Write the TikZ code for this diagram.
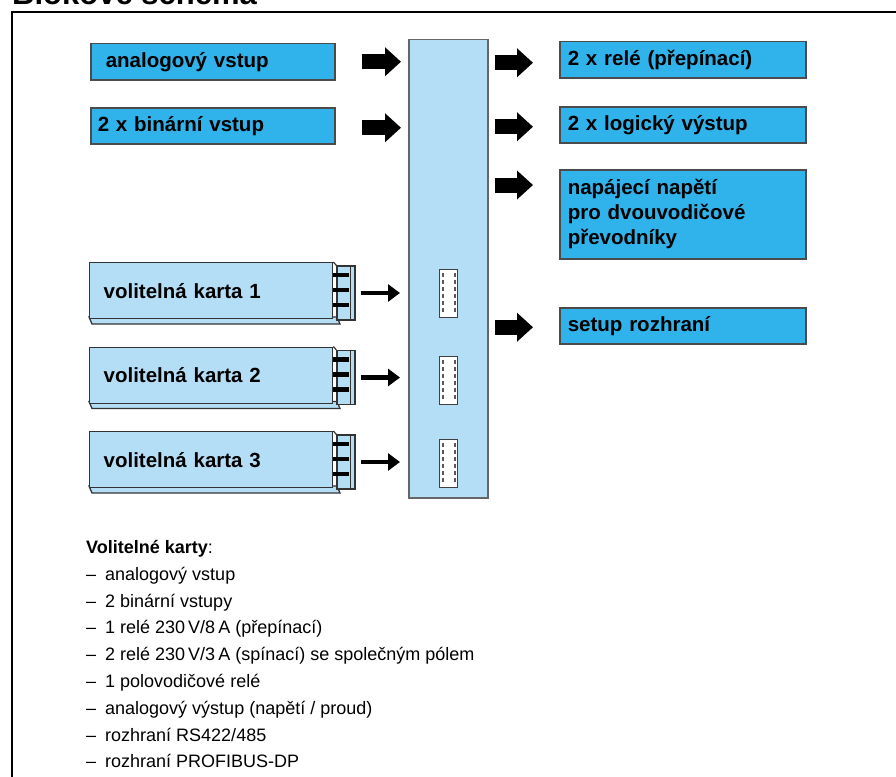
\documentclass[tikz,border=0pt]{standalone}
\usepackage{fontspec}
\setmainfont{Liberation Sans}
\usetikzlibrary{arrows.meta,positioning,calc}

\definecolor{boxcyan}{RGB}{48,178,234}
\definecolor{cardblue}{RGB}{180,222,245}
\definecolor{edgegray}{RGB}{75,75,75}

\begin{document}
\begin{tikzpicture}[x=1pt,y=-1pt,
  iobox/.style={rectangle,draw=edgegray,line width=1.5pt,fill=boxcyan,anchor=north west,
    align=left,font=\fontsize{20.5}{25}\selectfont\bfseries,minimum height=36pt,
    inner ysep=4pt,text width=#1},
  cardbox/.style={rectangle,draw=black!80,line width=1.3pt,fill=cardblue,anchor=north west,
    align=left,font=\fontsize{20.5}{25}\selectfont\bfseries,minimum height=56pt,
    inner xsep=14pt,text width=215pt},
  conn/.style={rectangle,draw=black!80,line width=1.3pt,fill=cardblue,minimum width=18pt,
    minimum height=54pt,inner sep=0pt},
  slot/.style={rectangle,draw=black!75,line width=1.2pt,fill=white,anchor=north west,
    minimum width=18pt,minimum height=48pt,inner sep=0pt},
  bigarrow/.style={line width=15pt,-{Triangle[length=16pt,width=28pt]}},
  cardarrow/.style={line width=4.5pt,-{Triangle[length=12pt,width=17pt]}}
]
\useasboundingbox (0,0) rectangle (896,776);

% title and frame
\node[anchor=base west,inner sep=0pt,font=\fontsize{31}{31}\selectfont\bfseries] (title) at (12,5) {Blokové schéma};
\draw[line width=2.2pt] (910,12) -- (12,12) -- (12,790);

% central bus
\node[rectangle,draw=black!60,line width=1.5pt,fill=cardblue,anchor=north west,
  minimum width=79pt,minimum height=458pt] (bus) at (408,39) {};
\foreach \y [count=\i] in {269,356,439} {
  \node[slot] (slot\i) at (439,\y) {};
  \draw[black!65,line width=2pt,dash pattern=on 4pt off 3pt]
    ([xshift=3.5pt,yshift=-4pt]slot\i.north west) -- ([xshift=3.5pt,yshift=4pt]slot\i.south west);
  \draw[black!65,line width=2pt,dash pattern=on 4pt off 3pt]
    ([xshift=-3.5pt,yshift=-4pt]slot\i.north east) -- ([xshift=-3.5pt,yshift=4pt]slot\i.south east);
}

% inputs
\node[iobox=214pt,inner xsep=15pt] (ain) at (90,43) {analogový vstup};
\node[iobox=230pt,inner xsep=7pt] (bin) at (90,107) {2 x binární vstup};
\draw[bigarrow,shorten <=26pt,shorten >=7pt] (ain.east) -- (ain.east -| bus.west);
\draw[bigarrow,shorten <=26pt,shorten >=7pt] ([yshift=-2pt]bin.east) -- ([yshift=-2pt]bin.east -| bus.west);

% outputs
\node[iobox=230pt,inner xsep=8pt] (rel) at (559,41) {2 x relé (přepínací)};
\node[iobox=230pt,inner xsep=8pt] (logout) at (559,106) {2 x logický výstup};
\node[iobox=230pt,inner xsep=8pt,minimum height=89pt] (pwr) at (559,169)
  {napájecí napětí\\pro dvouvodičové\\převodníky};
\node[iobox=230pt,inner xsep=8pt] (setup) at (559,307) {setup rozhraní};
\draw[bigarrow,shorten <=6pt,shorten >=26pt] ([yshift=-3pt]rel.west -| bus.east) -- ([yshift=-3pt]rel.west);
\draw[bigarrow,shorten <=6pt,shorten >=26pt] ([yshift=-2pt]logout.west -| bus.east) -- ([yshift=-2pt]logout.west);
\draw[bigarrow,shorten <=6pt,shorten >=26pt] ([yshift=-16pt]pwr.north west -| bus.east) -- ([yshift=-16pt]pwr.north west);
\draw[bigarrow,shorten <=6pt,shorten >=26pt] ([yshift=-1.5pt]setup.west -| bus.east) -- ([yshift=-1.5pt]setup.west);

% option cards
\foreach \y [count=\i] in {262,346.5,431} {
  \draw[black!80,line width=1.3pt,fill=cardblue]
    (89,\y+55) -- (92,\y+62) -- (340,\y+62) -- (337,\y+55) -- cycle;
  \node[conn] (conn\i) at (346,\y+31) {};
  \draw[black!80,line width=1pt] (conn\i.north east) ++(-5,0) -- ++(0,54);
  \node[cardbox] (card\i) at (89,\y) {volitelná karta \i};
  \draw[black!80,line width=1.2pt] (card\i.north east) -- (conn\i.north west);
  \foreach \s in {13,28,43}
    \draw[line width=4.5pt] (333,\y+\s) -- (349,\y+\s);
  \draw[cardarrow,shorten <=5pt,shorten >=8pt] (conn\i.east) -- (conn\i.east -| bus.west);
}

% list of option cards
\node[anchor=north west,align=left,inner sep=0pt,font=\fontsize{18}{26.8}\selectfont] (cardlist) at (86,540)
  {\textbf{Volitelné karty}:\\
   \makebox[19pt][l]{–}analogový vstup\\
   \makebox[19pt][l]{–}2 binární vstupy\\
   \makebox[19pt][l]{–}1 relé 230\,V/8\,A (přepínací)\\
   \makebox[19pt][l]{–}2 relé 230\,V/3\,A (spínací) se společným pólem\\
   \makebox[19pt][l]{–}1 polovodičové relé\\
   \makebox[19pt][l]{–}analogový výstup (napětí / proud)\\
   \makebox[19pt][l]{–}rozhraní RS422/485\\
   \makebox[19pt][l]{–}rozhraní PROFIBUS-DP};
\end{tikzpicture}
\end{document}
